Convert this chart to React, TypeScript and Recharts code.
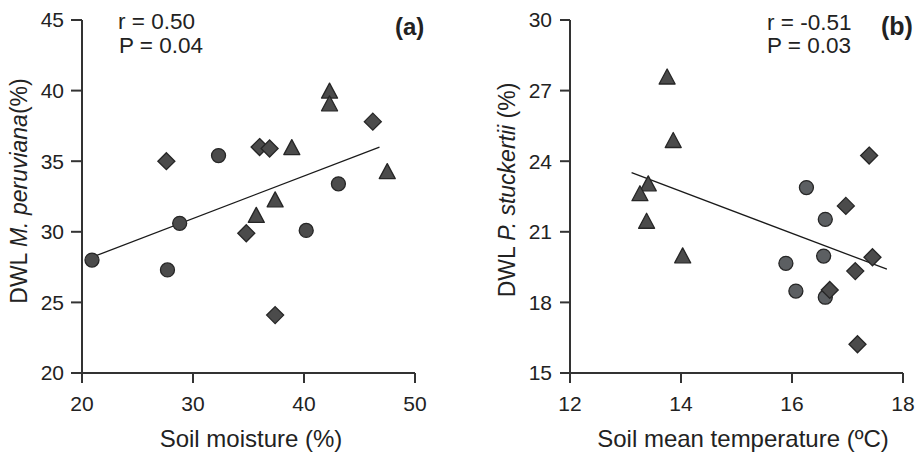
import React from 'react';
import { ScatterChart, Scatter, XAxis, YAxis } from 'recharts';

// ---------- Panel (a): soil moisture vs DWL M. peruviana ----------
const moistureTicks = [20, 30, 40, 50];
const dwlMTicks = [20, 25, 30, 35, 40, 45];
const aCircles = [
  { x: 20.9, y: 28.0 },
  { x: 27.7, y: 27.3 },
  { x: 28.8, y: 30.6 },
  { x: 32.3, y: 35.4 },
  { x: 40.2, y: 30.1 },
  { x: 43.1, y: 33.4 },
];
const aDiamonds = [
  { x: 27.6, y: 35.0 },
  { x: 34.8, y: 29.9 },
  { x: 36.0, y: 36.0 },
  { x: 36.9, y: 35.9 },
  { x: 37.4, y: 24.1 },
  { x: 46.2, y: 37.8 },
];
const aTriangles = [
  { x: 35.7, y: 31.2 },
  { x: 37.4, y: 32.3 },
  { x: 38.9, y: 36.0 },
  { x: 42.3, y: 40.0 },
  { x: 42.3, y: 39.1 },
  { x: 47.5, y: 34.3 },
];
const aFit = [
  { x: 20.9, y: 28.2 },
  { x: 46.8, y: 36.0 },
];

// ---------- Panel (b): soil mean temperature vs DWL P. stuckertii ----------
const tempTicks = [12, 14, 16, 18];
const dwlPTicks = [15, 18, 21, 24, 27, 30];
const bTriangles = [
  { x: 13.75, y: 27.6 },
  { x: 13.86, y: 24.9 },
  { x: 13.41, y: 23.06 },
  { x: 13.26, y: 22.64 },
  { x: 13.38, y: 21.47 },
  { x: 14.03, y: 20.0 },
];
const bCircles = [
  { x: 16.26, y: 22.88 },
  { x: 16.6, y: 21.53 },
  { x: 15.89, y: 19.66 },
  { x: 16.07, y: 18.48 },
  { x: 16.57, y: 19.97 },
  { x: 16.6, y: 18.22 },
];
const bDiamonds = [
  { x: 17.39, y: 24.24 },
  { x: 16.97, y: 22.1 },
  { x: 16.68, y: 18.53 },
  { x: 17.14, y: 19.33 },
  { x: 17.45, y: 19.92 },
  { x: 17.18, y: 16.22 },
];
const bFit = [
  { x: 13.11, y: 23.51 },
  { x: 17.71, y: 19.41 },
];

const FONT = '"Liberation Sans", Arial, Helvetica, sans-serif';
const INK = '#222';
const EDGE = '#262626';
const DARK = '#4b4b4b';
const MID = '#5c5f62';

const circleShape = (fill: string) => (p: any) => (
  <circle cx={p.cx} cy={p.cy} r={7} fill={fill} stroke={EDGE} strokeWidth={1.3} />
);
const diamondShape = (fill: string) => (p: any) => {
  const s = 8.5;
  return (
    <path
      d={`M${p.cx},${p.cy - s}L${p.cx + s},${p.cy}L${p.cx},${p.cy + s}L${p.cx - s},${p.cy}Z`}
      fill={fill}
      stroke={EDGE}
      strokeWidth={1.3}
    />
  );
};
const triangleShape = (fill: string) => (p: any) => {
  const w = 8, h = 7.5;
  return (
    <path
      d={`M${p.cx},${p.cy - h}L${p.cx + w},${p.cy + h}L${p.cx - w},${p.cy + h}Z`}
      fill={fill}
      stroke={EDGE}
      strokeWidth={1.3}
      strokeLinejoin="round"
    />
  );
};
const noShape = () => <g />;

const axisStroke = { stroke: '#333', strokeWidth: 2 };
const tickStyle = { fill: INK, fontSize: 21, fontFamily: FONT };
const textStyle = { fill: INK, fontFamily: FONT } as const;

export default function App() {
  return (
    <div style={{ position: 'absolute', left: 0, top: 0, width: 917, height: 456, background: '#fff', overflow: 'hidden' }}>
      <div style={{ position: 'absolute', left: 0, top: 0 }}>
        <ScatterChart width={458} height={456} margin={{ top: 20, right: 43, bottom: 23, left: 22 }}>
          <XAxis
            type="number"
            dataKey="x"
            domain={[20, 50]}
            ticks={moistureTicks}
            height={60}
            tickSize={10}
            tickMargin={13}
            axisLine={axisStroke}
            tickLine={axisStroke}
            tick={tickStyle}
          />
          <YAxis
            type="number"
            dataKey="y"
            domain={[20, 45]}
            ticks={dwlMTicks}
            width={60}
            tickSize={11}
            tickMargin={7}
            axisLine={axisStroke}
            tickLine={axisStroke}
            tick={tickStyle}
          />
          <Scatter data={aFit} line={{ stroke: '#1a1a1a', strokeWidth: 1.3 }} shape={noShape} isAnimationActive={false} />
          <Scatter data={aCircles} shape={circleShape(DARK)} isAnimationActive={false} />
          <Scatter data={aDiamonds} shape={diamondShape(DARK)} isAnimationActive={false} />
          <Scatter data={aTriangles} shape={triangleShape(DARK)} isAnimationActive={false} />
          <text x={251} y={447} textAnchor="middle" fontSize={24} style={textStyle}>Soil moisture (%)</text>
          <text x={27} y={191} transform="rotate(-90, 27, 191)" textAnchor="middle" fontSize={23} style={textStyle}>
            DWL <tspan fontStyle="italic">M. peruviana</tspan>(%)
          </text>
          <text x={118} y={29} fontSize={22.5} style={textStyle}>r = 0.50</text>
          <text x={119} y={53} fontSize={22.5} style={textStyle}>P = 0.04</text>
          <text x={395} y={35} fontSize={24} fontWeight="bold" style={textStyle}>(a)</text>
        </ScatterChart>
      </div>
      <div style={{ position: 'absolute', left: 458, top: 0 }}>
        <ScatterChart width={459} height={456} margin={{ top: 20, right: 14, bottom: 23, left: 52 }}>
          <XAxis
            type="number"
            dataKey="x"
            domain={[12, 18]}
            ticks={tempTicks}
            height={60}
            tickSize={10}
            tickMargin={13}
            axisLine={axisStroke}
            tickLine={axisStroke}
            tick={tickStyle}
          />
          <YAxis
            type="number"
            dataKey="y"
            domain={[15, 30]}
            ticks={dwlPTicks}
            width={60}
            tickSize={10}
            tickMargin={8}
            axisLine={axisStroke}
            tickLine={axisStroke}
            tick={tickStyle}
          />
          <Scatter data={bFit} line={{ stroke: '#1a1a1a', strokeWidth: 1.3 }} shape={noShape} isAnimationActive={false} />
          <Scatter data={bTriangles} shape={triangleShape(DARK)} isAnimationActive={false} />
          <Scatter data={bCircles} shape={circleShape(MID)} isAnimationActive={false} />
          <Scatter data={bDiamonds} shape={diamondShape(DARK)} isAnimationActive={false} />
          <text x={285} y={447} textAnchor="middle" fontSize={24} style={textStyle}>Soil mean temperature (ºC)</text>
          <text x={57} y={190} transform="rotate(-90, 57, 190)" textAnchor="middle" fontSize={23} style={textStyle}>
            DWL <tspan fontStyle="italic">P. stuckertii</tspan> (%)
          </text>
          <text x={309} y={30} fontSize={22.5} style={textStyle}>r = -0.51</text>
          <text x={309} y={53} fontSize={22.5} style={textStyle}>P = 0.03</text>
          <text x={423} y={35} fontSize={25} fontWeight="bold" style={textStyle}>(b)</text>
        </ScatterChart>
      </div>
    </div>
  );
}
